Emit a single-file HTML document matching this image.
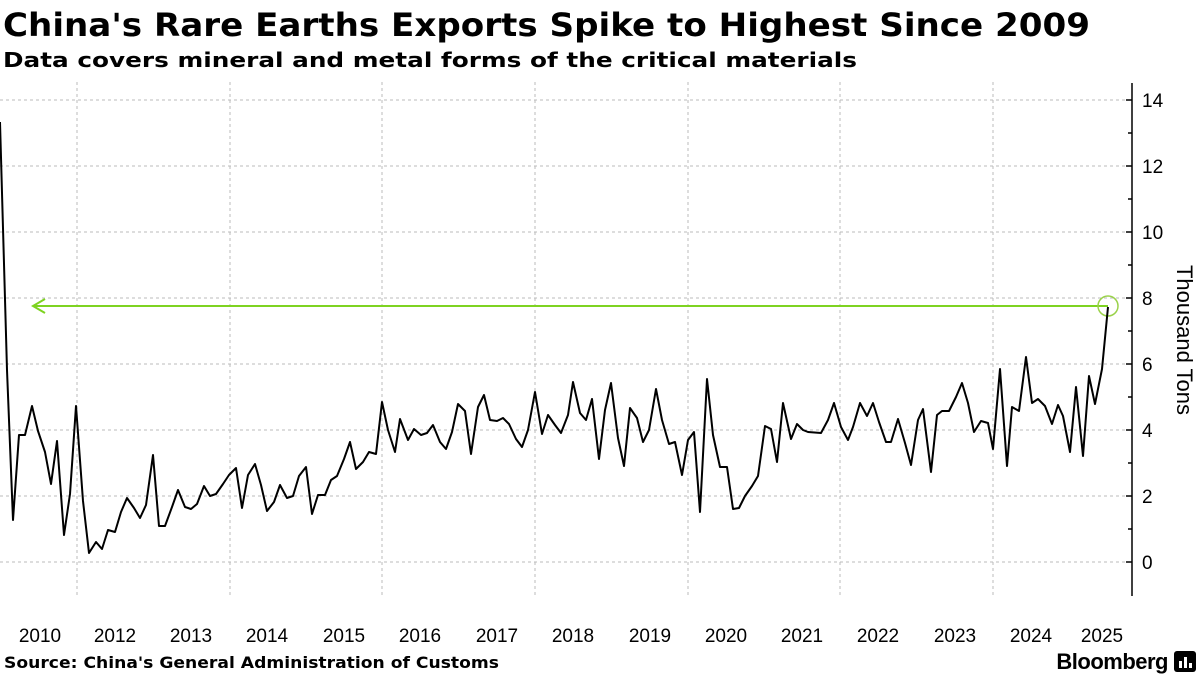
<!DOCTYPE html>
<html><head><meta charset="utf-8"><style>
body{margin:0;width:1200px;height:675px;background:#fff;overflow:hidden;font-family:"Liberation Sans",sans-serif}
</style></head><body>
<svg width="1200" height="675" xmlns="http://www.w3.org/2000/svg" font-family="Liberation Sans, sans-serif">
<text x="3" y="36" font-size="32" font-weight="bold" fill="#000" font-family="DejaVu Sans, sans-serif" textLength="1087" lengthAdjust="spacingAndGlyphs">China's Rare Earths Exports Spike to Highest Since 2009</text>
<text x="3" y="67" font-size="20" font-weight="bold" fill="#000" font-family="DejaVu Sans, sans-serif" textLength="854" lengthAdjust="spacingAndGlyphs">Data covers mineral and metal forms of the critical materials</text>
<g stroke="#bbb" stroke-width="1" stroke-dasharray="3,3">
<line x1="0" x2="1125" y1="100" y2="100"/><line x1="0" x2="1125" y1="166" y2="166"/><line x1="0" x2="1125" y1="232" y2="232"/><line x1="0" x2="1125" y1="298" y2="298"/><line x1="0" x2="1125" y1="364" y2="364"/><line x1="0" x2="1125" y1="430" y2="430"/><line x1="0" x2="1125" y1="496" y2="496"/><line x1="0" x2="1125" y1="562" y2="562"/>
<line x1="77" x2="77" y1="82" y2="596"/><line x1="230" x2="230" y1="82" y2="596"/><line x1="382" x2="382" y1="82" y2="596"/><line x1="535" x2="535" y1="82" y2="596"/><line x1="688" x2="688" y1="82" y2="596"/><line x1="840" x2="840" y1="82" y2="596"/><line x1="993" x2="993" y1="82" y2="596"/>
</g>
<line x1="1132" x2="1132" y1="83" y2="596" stroke="#000" stroke-width="1.5"/>
<g stroke="#000" stroke-width="1.5">
<line x1="1126" x2="1132" y1="100" y2="100"/><line x1="1126" x2="1132" y1="166" y2="166"/><line x1="1126" x2="1132" y1="232" y2="232"/><line x1="1126" x2="1132" y1="298" y2="298"/><line x1="1126" x2="1132" y1="364" y2="364"/><line x1="1126" x2="1132" y1="430" y2="430"/><line x1="1126" x2="1132" y1="496" y2="496"/><line x1="1126" x2="1132" y1="562" y2="562"/>
<line x1="1128" x2="1132" y1="133" y2="133"/><line x1="1128" x2="1132" y1="199" y2="199"/><line x1="1128" x2="1132" y1="265" y2="265"/><line x1="1128" x2="1132" y1="331" y2="331"/><line x1="1128" x2="1132" y1="397" y2="397"/><line x1="1128" x2="1132" y1="463" y2="463"/><line x1="1128" x2="1132" y1="529" y2="529"/>
</g>
<g font-size="19" fill="#000">
<text x="1142" y="107">14</text><text x="1142" y="173">12</text><text x="1142" y="239">10</text><text x="1142" y="305">8</text><text x="1142" y="371">6</text><text x="1142" y="437">4</text><text x="1142" y="503">2</text><text x="1142" y="569">0</text>
</g>
<text transform="translate(1177,340) rotate(90)" font-size="22" text-anchor="middle" fill="#000">Thousand Tons</text>
<g font-size="19" fill="#000" text-anchor="middle">
<text x="40" y="642">2010</text><text x="115" y="642">2012</text><text x="191" y="642">2013</text><text x="267" y="642">2014</text><text x="344" y="642">2015</text><text x="420" y="642">2016</text><text x="497" y="642">2017</text><text x="573" y="642">2018</text><text x="650" y="642">2019</text><text x="726" y="642">2020</text><text x="802" y="642">2021</text><text x="878" y="642">2022</text><text x="955" y="642">2023</text><text x="1031" y="642">2024</text><text x="1102" y="642">2025</text>
</g>
<line x1="34" x2="1108" y1="306" y2="306" stroke="#7ed321" stroke-width="2"/>
<polyline points="45,299 33,306 45,313" fill="none" stroke="#7ed321" stroke-width="2"/>
<circle cx="1108" cy="306" r="10" fill="none" stroke="#9ad24a" stroke-width="1.5"/>
<polyline fill="none" stroke="#000" stroke-width="2" stroke-linejoin="round" points="0,122 7,370 13,520 19,435 25,435 32,406 38,431 45,452 51,484 57,441 64,535 70,494 76,406 83,501 89,553 96,542 102,549 108,530 115,532 121,512 127,498 134,508 140,518 146,505 153,455 159,526 165,526 172,507 178,490 185,507 191,509 197,504 204,486 210,496 216,494 223,484 229,475 236,468 242,508 248,475 255,464 261,485 267,511 274,502 280,485 287,498 293,496 299,476 306,467 312,514 318,495 325,495 331,480 337,476 344,459 350,442 356,469 363,462 369,452 376,454 382,402 388,430 395,452 400,419 408,440 414,429 421,435 427,433 433,425 440,442 446,449 452,432 458,404 465,411 471,454 478,407 484,395 490,420 497,421 503,418 509,424 516,439 522,447 528,430 535,392 542,434 548,415 555,425 561,433 568,415 573,382 580,413 586,420 592,399 599,459 605,410 611,383 618,438 624,466 630,408 637,418 643,442 649,430 656,389 662,420 669,444 675,442 682,475 688,440 694,432 700,512 707,379 713,435 720,467 727,467 733,509 739,508 745,496 752,486 758,476 765,426 771,429 777,462 783,403 791,439 797,424 803,430 808,432 821,433 828,420 834,403 841,427 848,440 853,427 860,403 867,416 873,403 879,422 886,442 891,442 898,419 905,443 911,465 918,420 923,409 931,472 937,415 942,411 949,411 956,397 962,383 968,403 974,432 981,421 988,423 993,449 1000,369 1007,466 1012,407 1019,411 1026,357 1032,403 1038,399 1045,406 1052,424 1058,405 1063,416 1070,452 1076,387 1083,456 1089,376 1095,404 1102,369 1108,307"/>
<text x="4" y="668" font-size="16" font-weight="bold" fill="#000" font-family="DejaVu Sans, sans-serif" textLength="495" lengthAdjust="spacingAndGlyphs">Source: China's General Administration of Customs</text>
<text x="1168" y="669" font-size="22" font-weight="bold" fill="#000" text-anchor="end" letter-spacing="-0.5">Bloomberg</text>
<rect x="1174" y="651" width="22" height="21" rx="3" fill="#000"/>
<rect x="1179" y="661" width="3" height="7" fill="#fff"/><rect x="1184" y="657" width="3" height="11" fill="#fff"/><rect x="1189" y="663" width="3" height="5" fill="#fff"/>
</svg>
</body></html>
